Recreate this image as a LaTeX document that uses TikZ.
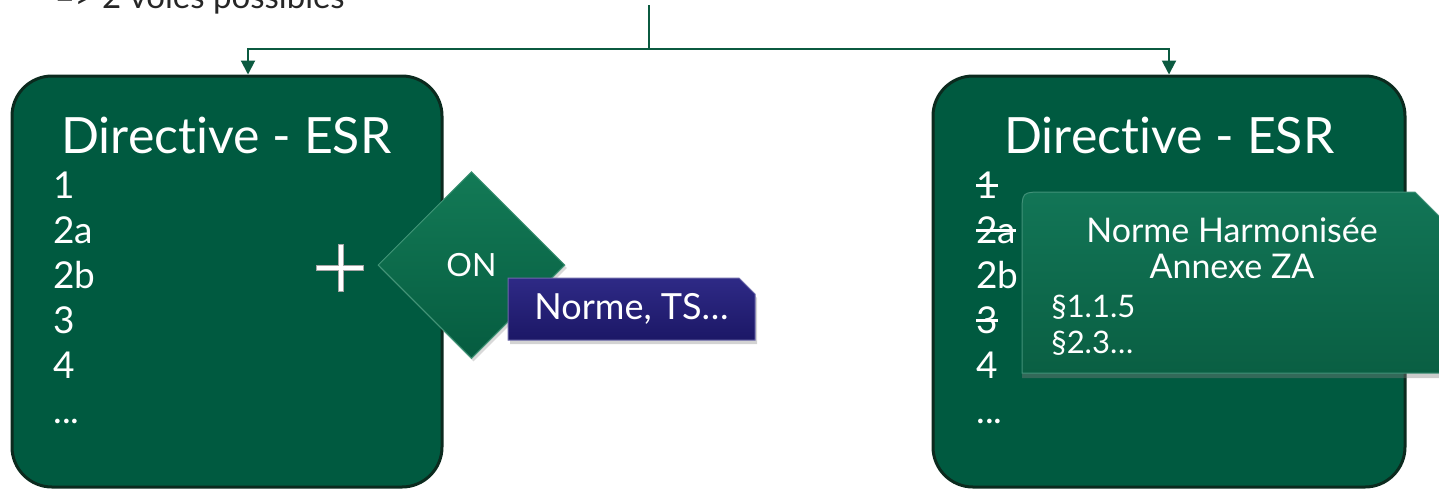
\documentclass[tikz,border=0pt]{standalone}
\usepackage{fontspec}
\setmainfont{Lato}[Ligatures={NoCommon,NoRare}]
\usetikzlibrary{arrows.meta,shapes.geometric,shapes.misc,shadows,calc}
\definecolor{boxg}{HTML}{005A40}
\definecolor{boxedge}{HTML}{0B2A1E}
\definecolor{ling}{HTML}{0B5A40}
\definecolor{dmtop}{HTML}{137A56}
\definecolor{dmbot}{HTML}{065C40}
\definecolor{navytop}{HTML}{2E2A86}
\definecolor{navybot}{HTML}{1C1766}
\definecolor{nhtop}{HTML}{127556}
\definecolor{nhbot}{HTML}{0A5F43}
\newcommand\mystrike[1]{\setbox0\hbox{#1}\rlap{\rule[0.3em]{\wd0}{0.07em}}\box0}
\tikzset{
  bigbox/.style={draw=boxedge, line width=1.5pt, fill=boxg, rounded corners=20pt},
  conn/.style={draw=ling, line width=1pt, -{Triangle[width=7pt,length=7pt]}},
  title/.style={text=white, anchor=base west, font=\fontsize{25pt}{28pt}\selectfont, inner sep=0},
  item/.style={text=white, anchor=base west, font=\fontsize{18.5pt}{20pt}\selectfont, inner sep=0},
  nh/.style={text=white, anchor=base, font=\fontsize{17pt}{19pt}\selectfont, inner sep=0},
  nhl/.style={text=white, anchor=base west, font=\fontsize{15.5pt}{17pt}\selectfont, inner sep=0},
}
\begin{document}
\begin{tikzpicture}[x=0.5pt,y=-0.5pt]
\useasboundingbox (0,0) rectangle (1439,489);
% top text (cut off)
\node[anchor=base west, inner sep=0, text=black!85, font=\fontsize{16.5pt}{18pt}\selectfont] (voies) at (55,8) {=> 2 voies possibles};
% boxes
\node[bigbox, minimum width=215pt, minimum height=205.5pt] (L) at (227,281.5) {};
\node[bigbox, minimum width=236pt, minimum height=205.5pt] (R) at (1169,281.5) {};
% connectors
\coordinate (src) at (649,5);
\coordinate (jl) at (248,49);
\draw[conn] (src) |- (jl) -- (jl |- L.north);
\draw[conn] (src) -- (src |- jl) -| (R.north);
% left texts
\node[title] (lt) at (61,153) {Directive - ESR};
\node[item] (l1) at (53,198) {1};
\node[item] (l2a) at (53,243) {2a};
\node[item] (l2b) at (53,288) {2b};
\node[item] (l3) at (53,333) {3};
\node[item] (l4) at (53,378) {4};
\node[item] (l5) at (53,423) {...};
% plus
\draw[gray!70, line width=3.2pt] (316,268) -- (364,268) (341,244) -- (341,292);
\draw[white, line width=2pt] (317,268) -- (363,268) (341,245) -- (341,291);
% diamond ON
\node[diamond, aspect=1, inner sep=0, minimum width=93.5pt, minimum height=93.5pt,
  top color=dmtop, bottom color=dmbot, draw=dmtop!80!white, line width=0.5pt,
  text=white, font=\fontsize{16pt}{18pt}\selectfont, drop shadow={opacity=0.3, shadow xshift=1pt, shadow yshift=-1.5pt}] (on) at (471.5,265) {ON};
% navy box
\node[chamfered rectangle, chamfered rectangle corners=north east, chamfered rectangle xsep=4pt, chamfered rectangle ysep=4pt,
  minimum width=123.5pt, minimum height=31pt, inner sep=0, top color=navytop, bottom color=navybot, draw=navytop!70!white, line width=0.5pt,
  text=white, font=\fontsize{18pt}{20pt}\selectfont, drop shadow={opacity=0.35, shadow xshift=1pt, shadow yshift=-2pt}] (ts) at (631.5,309) {Norme, TS…};
% right texts
\node[title] (rt) at (1004,153) {Directive - ESR};
\node[item] (r1) at (976,198) {\mystrike{1}};
\node[item] (r2a) at (976,243) {\mystrike{2a}};
\node[item] (r2b) at (976,288) {2b};
\node[item] (r3) at (976,333) {\mystrike{3}};
\node[item] (r4) at (976,378) {4};
\node[item] (r5) at (976,423) {...};
% Norme harmonisee box
\path[top color=nhtop, bottom color=nhbot, draw=nhtop!80!white, line width=0.5pt,
  drop shadow={opacity=0.4, shadow xshift=0pt, shadow yshift=-2.5pt}]
  (1022,373) -- (1022,214) .. controls (1022,192) .. (1044,192) -- (1415,192) -- (1450,227) -- (1450,373) -- cycle;
\node[nh] (nh1) at (1232,242) {Norme Harmonisée};
\node[nh] (nh2) at (1232,278) {Annexe ZA};
\node[nhl] (nh3) at (1051,317) {§1.1.5};
\node[nhl] (nh4) at (1051,353) {§2.3…};
\end{tikzpicture}
\end{document}
